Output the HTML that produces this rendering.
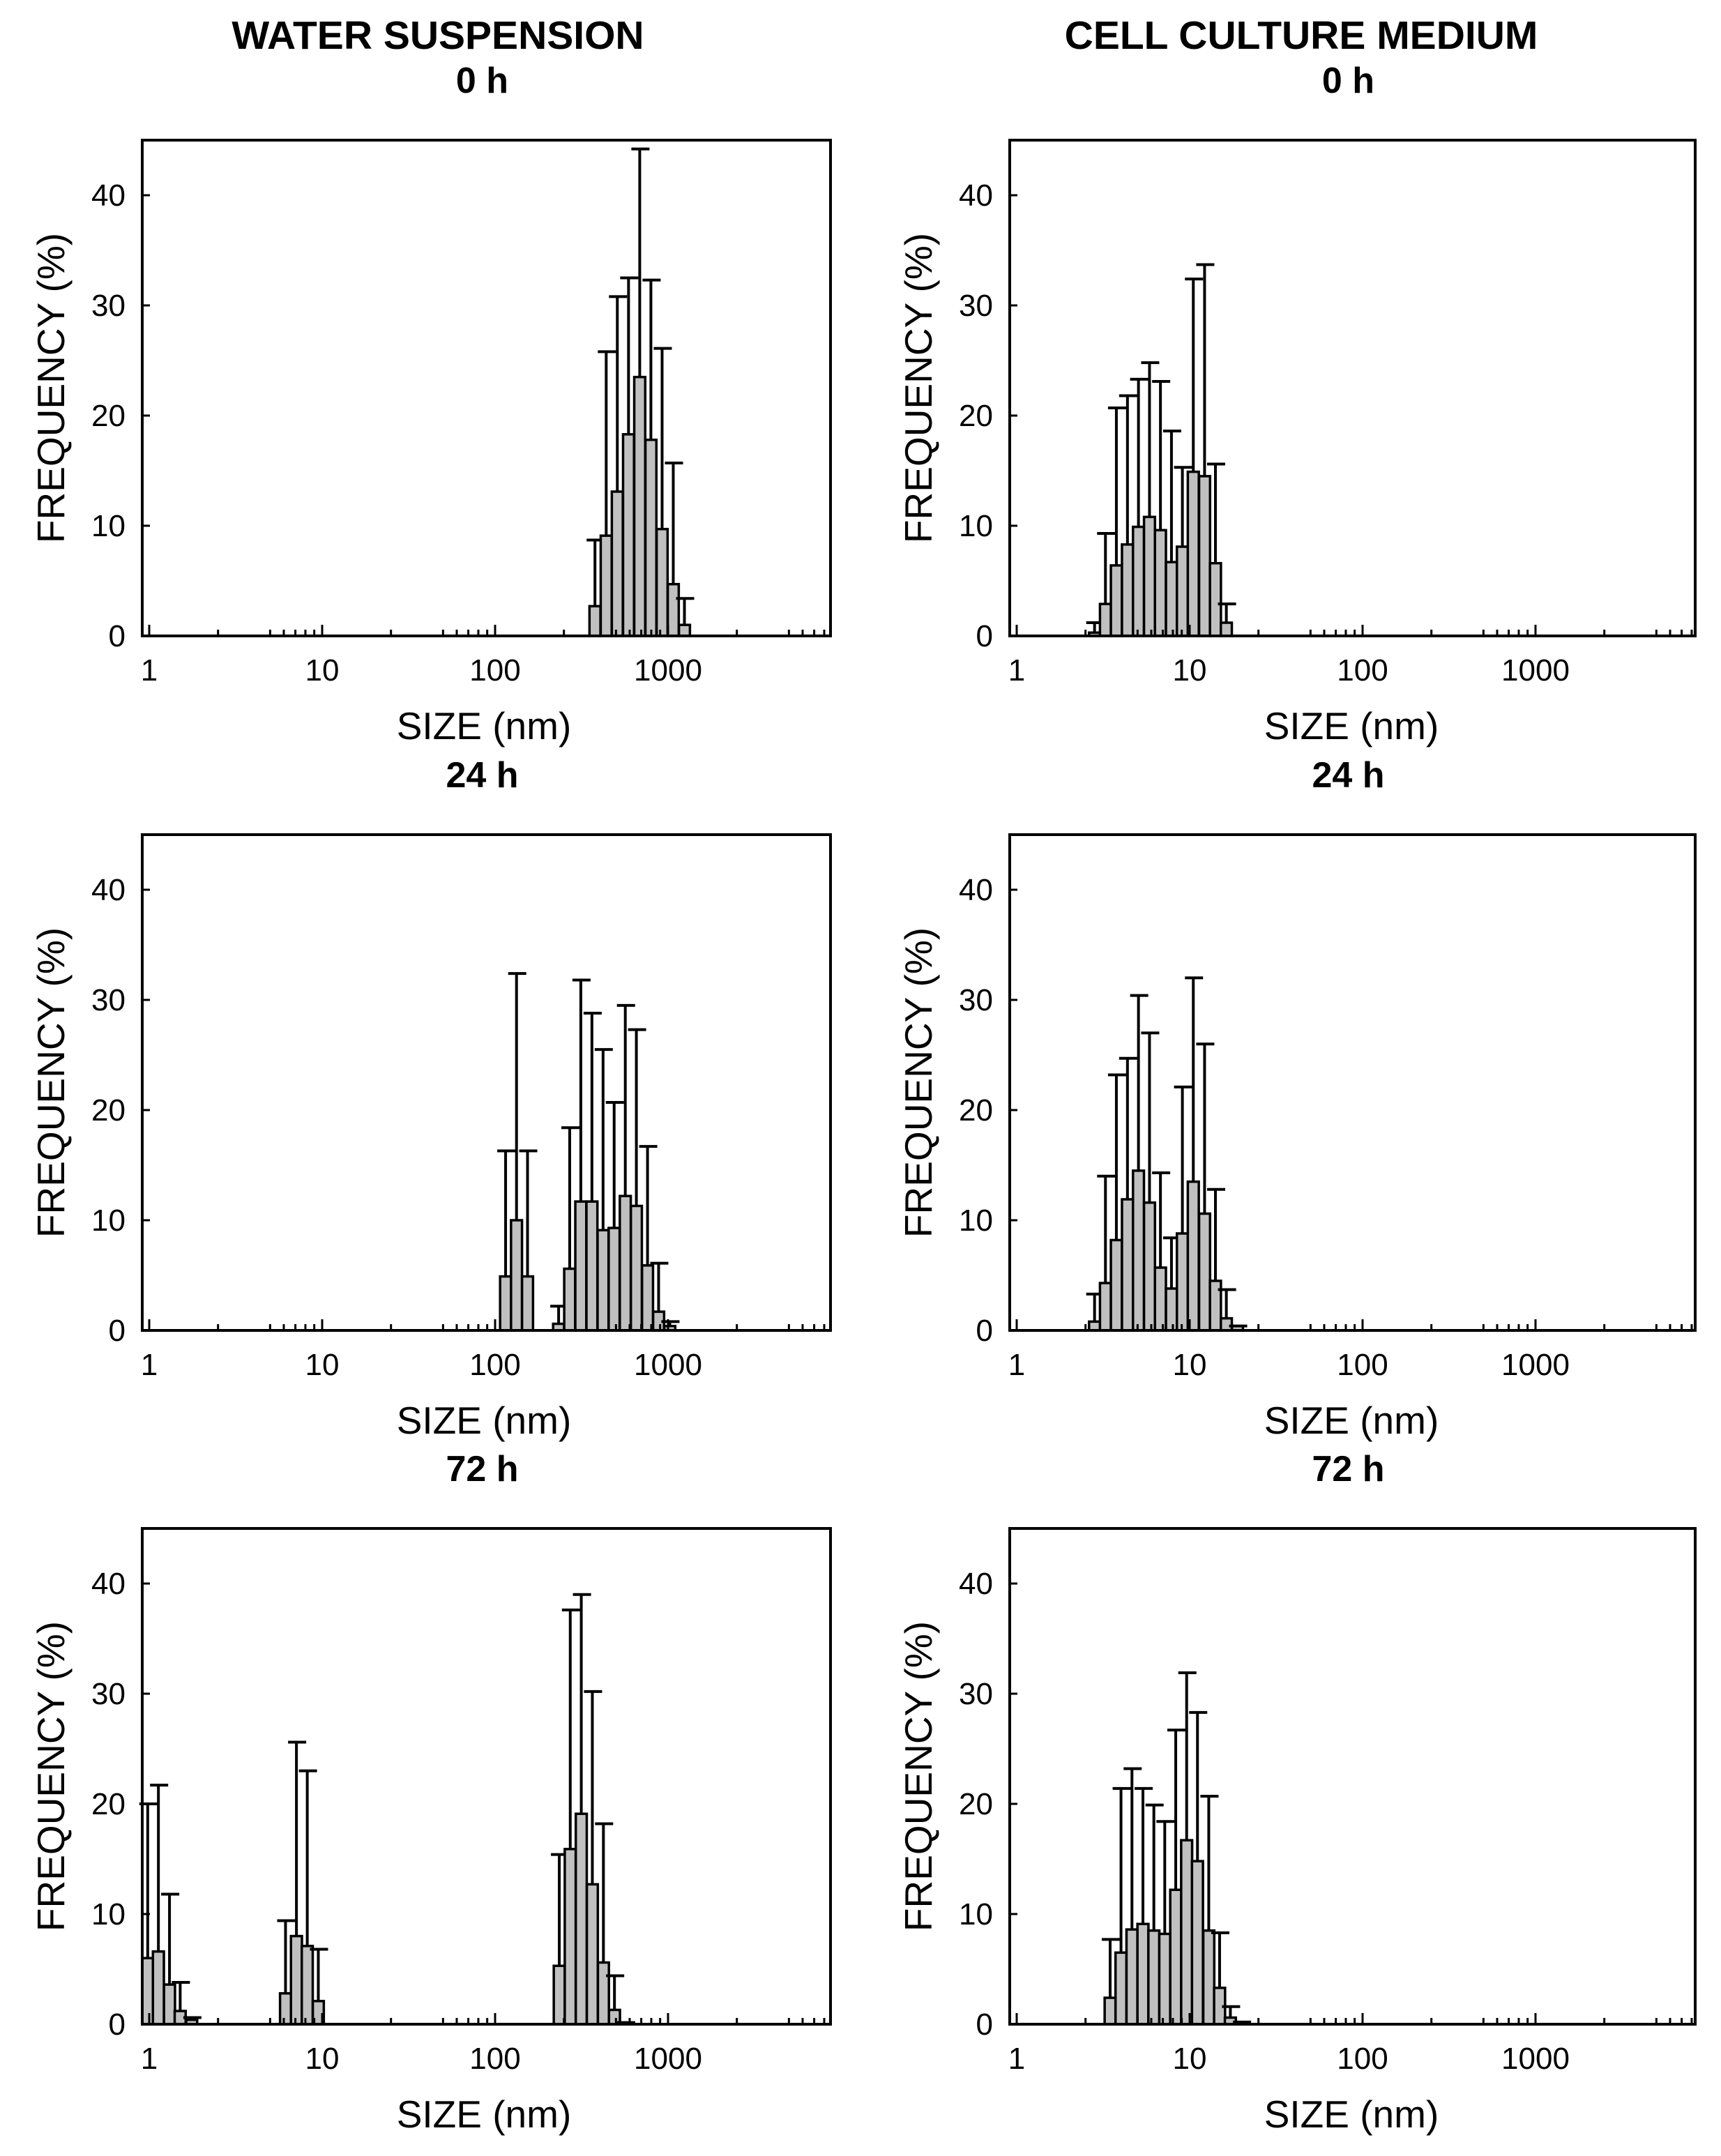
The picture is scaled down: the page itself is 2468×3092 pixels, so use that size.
<!DOCTYPE html>
<html><head><meta charset="utf-8"><style>
html,body{margin:0;padding:0;background:#fff;}
svg{display:block;font-family:"Liberation Sans",Arial,sans-serif;}
</style></head><body>
<svg id="fig" width="2468" height="3092" viewBox="0 0 2468 3092" xmlns="http://www.w3.org/2000/svg">
<text x="628" y="70" font-size="57" font-weight="bold" text-anchor="middle">WATER SUSPENSION</text>
<text x="1866" y="70" font-size="57" font-weight="bold" text-anchor="middle">CELL CULTURE MEDIUM</text>
</svg>
<script>
// ---- data (sizes in nm, frequency %, upper error in %) ----
const w0Centers=[378,439,509,591,686,796,924,1072,1244];
const w0Values=[2.7,9.1,13.1,18.3,23.5,17.8,9.7,4.7,1.0];
const w0Errors=[8.7,25.8,30.8,32.5,44.2,32.3,26.1,15.7,3.4];

const c0Centers=[2.82,3.26,3.77,4.37,5.06,5.86,6.78,7.85,9.08,10.5,12.2,14.1,16.3];
const c0Values=[0.3,2.9,6.4,8.3,9.9,10.8,9.6,6.7,8.1,14.9,14.5,6.6,1.2];
const c0Errors=[1.2,9.3,20.7,21.8,23.3,24.8,23.1,18.6,15.3,32.4,33.7,15.6,2.9];

const w24Centers=[115,133,154,233,270,313,363,421,488,566,656,761,882,1023];
const w24Values=[4.9,10.0,4.9,0.6,5.6,11.7,11.7,9.1,9.3,12.2,11.3,5.9,1.7,0.4];
const w24Errors=[16.3,32.4,16.3,2.2,18.4,31.8,28.8,25.5,20.7,29.5,27.3,16.7,6.1,0.8];

const c24Centers=[2.82,3.26,3.77,4.37,5.06,5.86,6.78,7.85,9.08,10.5,12.2,14.1,16.3,18.9];
const c24Values=[0.8,4.3,8.2,11.9,14.5,11.6,5.7,3.8,8.8,13.5,10.6,4.5,1.1,0.4];
const c24Errors=[3.3,14.0,23.2,24.7,30.4,27.0,14.3,8.4,22.1,32.0,26.0,12.8,3.7,0.4];

const w72Centers=[0.98,1.13,1.31,1.51,1.76,6.14,7.1,8.2,9.5,235,272,315,365,423,490,567];
const w72Values=[6.0,6.6,3.6,1.2,0.4,2.8,8.0,7.1,2.1,5.3,15.9,19.1,12.7,5.6,1.3,0.15];
const w72Errors=[20,21.7,11.8,3.8,0.6,9.4,25.6,23.0,6.8,15.4,37.6,39.0,30.2,18.2,4.4,0.15];

const c72Centers=[3.47,4.01,4.64,5.37,6.21,7.18,8.31,9.61,11.1,12.9,14.9,17.2,19.9];
const c72Values=[2.4,6.5,8.6,9.1,8.5,8.2,12.2,16.7,14.8,8.5,3.3,0.6,0.2];
const c72Errors=[7.7,21.4,23.2,21.4,19.9,18.4,26.7,31.9,28.3,20.7,8.3,1.6,0.2];

const yTicks=[0,10,20,30,40];
const xTicks=[1,10,100,1000];
const xTickLabels=["1","10","100","1000"];
const xMinor=[2.5,5,6,7,8,9];
const panelTitles=["0 h","24 h","72 h"];

const NS="http://www.w3.org/2000/svg";
const svg=document.getElementById('fig');
function mk(tag,attrs,parent){const e=document.createElementNS(NS,tag);for(const k in attrs)e.setAttribute(k,attrs[k]);(parent||svg).appendChild(e);return e;}

const BINW=0.0635, YMAX=45;
function panel(col,row,centers,values,errors,key){
  const bl=col===0?204:1448, br=col===0?1191:2431;
  const x1=bl+10, dec=248;
  const axisY=Math.round(912+row*995.5), H=711, top=axisY-H;
  const sx=v=>x1+Math.log10(v)*dec;
  const sy=v=>axisY-v*(H/YMAX);
  const g=mk('g',{});
  
  
  const cx=(bl+br)/2;
  const t=mk('text',{x:cx-6,y:top-68,'font-size':52,'font-weight':'bold','text-anchor':'middle'},g);
  t.textContent=panelTitles[row];
  
  
  centers.forEach((c,i)=>{
    const l=sx(c)-BINW/2*dec, r=sx(c)+BINW/2*dec;
    const b=mk('rect',{x:l,y:sy(values[i]),width:r-l,height:axisY-sy(values[i]),fill:'#c0c0c0',stroke:'#000','stroke-width':3.5},g);
    
    
    const m=sx(c);
    const e=mk('path',{d:`M${m},${sy(values[i])}V${sy(errors[i])}M${m-12},${sy(errors[i])}H${m+14}`,stroke:'#000','stroke-width':4,fill:'none'},g);
    
    
  });
  const f=mk('rect',{x:bl,y:top,width:br-bl,height:axisY-top,fill:'none',stroke:'#000','stroke-width':4},g);
  
  
  yTicks.forEach(v=>{
    mk('line',{x1:bl,x2:bl+11,y1:sy(v),y2:sy(v),stroke:'#000','stroke-width':3},g);
    const tl=mk('text',{x:bl-24,y:sy(v)+15,'font-size':44,'text-anchor':'end'},g);
    tl.textContent=v;
    
    
  });
  const decades=[1,10,100,1000];
  decades.forEach(d=>xMinor.forEach(m=>{const x=sx(d*m);if(x<br-2)mk('line',{x1:x,x2:x,y1:axisY,y2:axisY-9,stroke:'#000','stroke-width':3},g);}));
  xTicks.forEach((v,i)=>{
    mk('line',{x1:sx(v),x2:sx(v),y1:axisY,y2:axisY-16,stroke:'#000','stroke-width':3},g);
    const tl=mk('text',{x:sx(v),y:axisY+64,'font-size':44,'text-anchor':'middle'},g);
    tl.textContent=xTickLabels[i];
    
    
  });
  const xl=mk('text',{x:bl+490,y:axisY+148,'font-size':55,'text-anchor':'middle'},g);
  xl.textContent='SIZE (nm)';
  
  
  const yx=bl-112, yy=(top+axisY)/2;
  const yl=mk('text',{x:yx,y:yy,'font-size':55,'text-anchor':'middle',transform:`rotate(-90 ${yx} ${yy})`},g);
  yl.textContent='FREQUENCY (%)';
  
  
}
panel(0,0,w0Centers,w0Values,w0Errors,'water-0h');
panel(1,0,c0Centers,c0Values,c0Errors,'medium-0h');
panel(0,1,w24Centers,w24Values,w24Errors,'water-24h');
panel(1,1,c24Centers,c24Values,c24Errors,'medium-24h');
panel(0,2,w72Centers,w72Values,w72Errors,'water-72h');
panel(1,2,c72Centers,c72Values,c72Errors,'medium-72h');
</script>
</body></html>
